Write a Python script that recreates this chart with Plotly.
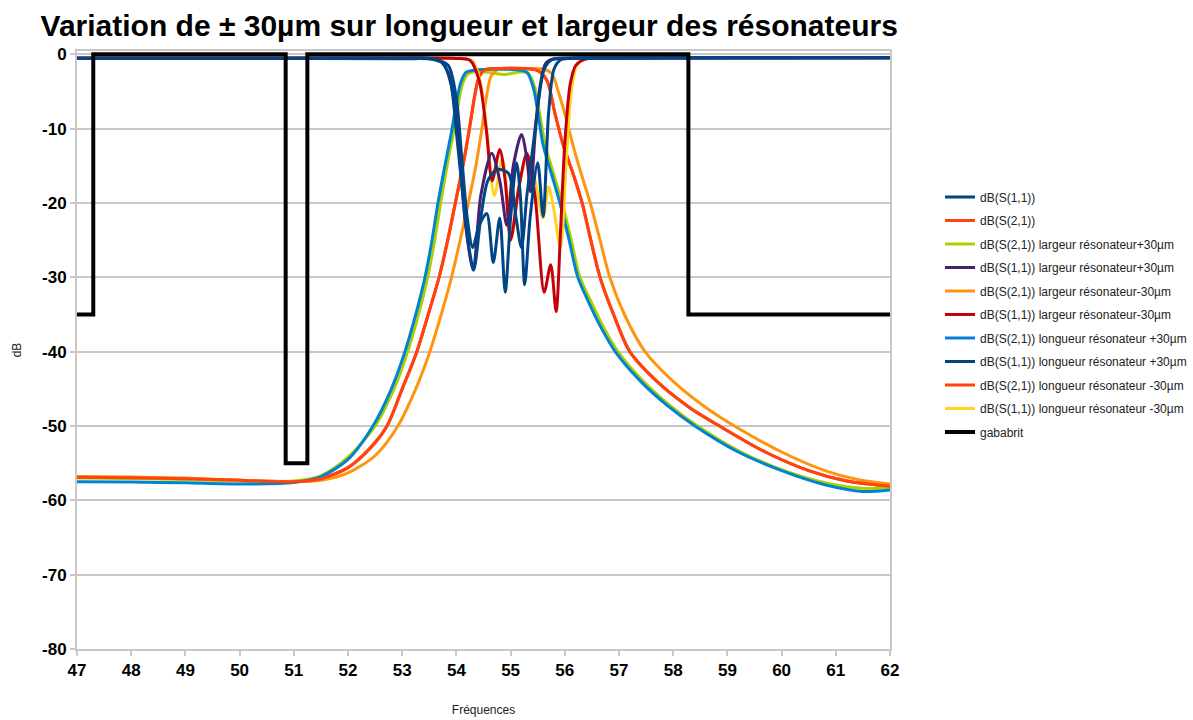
import plotly.graph_objects as go

# ---- S21 (transmission) curves, frequency in GHz / level in dB ----
f_s21_nom = [47, 48, 49, 50, 51, 51.5, 52, 52.4, 52.72, 53.0, 53.27, 53.48, 53.68, 53.84, 53.98, 54.12, 54.24,
             54.34, 54.42, 54.52, 54.8, 55.2, 55.5, 55.67, 55.82, 55.97, 56.15, 56.32, 56.48, 56.65, 56.9, 57.2,
             57.7, 58.3, 58.9, 59.7, 60.5, 61.2, 62]
db_s21_nom = [-56.9, -56.95, -57.1, -57.3, -57.45, -57.0, -55.6, -53.1, -50, -45, -40, -35, -30, -25, -20, -15,
              -10, -5.5, -3.0, -2.1, -1.9, -1.9, -2.2, -3.5, -8, -12.2, -16, -20, -25, -30, -35, -40, -44, -47.5,
              -50.2, -53.5, -56, -57.4, -58.1]

f_s21_lo = [47, 48, 49, 50, 51, 51.5, 52, 52.46, 52.8, 53.05, 53.25, 53.42, 53.55, 53.66, 53.8, 53.92, 54.0, 54.08,
            54.18, 54.35, 54.6, 54.9, 55.15, 55.3, 55.42, 55.5, 55.6, 55.75, 55.91, 56.08, 56.24, 56.45, 56.65,
            56.93, 57.4, 57.9, 58.4, 59.2, 60.0, 60.8, 61.5, 62]
db_s21_lo = [-57.5, -57.55, -57.65, -57.8, -57.6, -56.8, -54.5, -50, -45, -40, -35, -30, -25, -20, -14.5, -10,
             -6.5, -3.8, -2.4, -2.1, -2.0, -2.0, -2.1, -2.4, -4.5, -7.7, -12.2, -16, -20, -25, -30, -33.5, -36.5,
             -40, -44, -47.3, -50, -53.5, -56, -57.9, -58.8, -58.6]

f_s21_wp = [47, 48, 49, 50, 51, 51.5, 52, 52.5, 52.85, 53.1, 53.3, 53.47, 53.6, 53.71, 53.84, 53.96, 54.04, 54.12,
            54.22, 54.4, 54.65, 54.9, 55.15, 55.32, 55.45, 55.53, 55.64, 55.79, 55.95, 56.12, 56.28, 56.5, 56.7,
            56.98, 57.45, 57.95, 58.45, 59.25, 60.05, 60.85, 61.55, 62]
db_s21_wp = [-57.0, -57.05, -57.2, -57.4, -57.4, -56.7, -54.2, -50, -45, -40, -35, -30, -25, -20, -14.5, -10, -6.5,
             -3.8, -2.6, -2.3, -2.5, -2.7, -2.4, -2.5, -4.5, -7.7, -12.2, -16, -20, -25, -30, -33.5, -36.5, -40,
             -44, -47.3, -50, -53.5, -56, -57.7, -58.4, -58.3]

f_s21_wm = [47, 48, 49, 50, 51, 51.5, 52, 52.5, 52.92, 53.25, 53.51, 53.72, 53.91, 54.07, 54.22, 54.36, 54.47,
            54.56, 54.64, 54.75, 55.0, 55.4, 55.62, 55.76, 55.9, 56.02, 56.15, 56.3, 56.47, 56.65, 56.83, 57.1,
            57.48, 58.0, 58.6, 59.2, 60.0, 60.8, 61.4, 62]
db_s21_wm = [-56.8, -56.85, -57.0, -57.3, -57.5, -57.3, -56.3, -54, -50, -45, -40, -35, -30, -25, -20, -15, -10,
             -5.5, -2.9, -2.1, -1.9, -1.9, -2.0, -2.6, -5.5, -8.5, -12.2, -16, -20, -25, -30, -35, -40, -44, -47.5,
             -50.3, -53.5, -56, -57.2, -57.8]

f_s21_lm = [47, 48, 49, 50, 51, 51.5, 52, 52.4, 52.72, 53.0, 53.27, 53.48, 53.68, 53.84, 53.98, 54.12, 54.24,
            54.34, 54.42, 54.52, 54.8, 55.2, 55.5, 55.67, 55.82, 55.97, 56.15, 56.32, 56.48, 56.65, 56.9, 57.2,
            57.7, 58.3, 58.9, 59.7, 60.5, 61.2, 62]
db_s21_lm = [-56.9, -56.95, -57.1, -57.3, -57.5, -57.1, -55.6, -53, -50, -45, -40, -35, -30, -25, -20, -15, -10,
             -5.5, -3.0, -2.1, -1.9, -1.9, -2.2, -3.5, -8, -12.2, -16, -20, -25, -30, -35, -40, -44, -47.5, -50.2,
             -53.5, -56, -57.4, -58.1]

# ---- S11 (reflection) curves ----
f_s11_nom = [47, 49, 51, 53, 53.6, 53.85, 54.0, 54.1, 54.2, 54.3, 54.42, 54.56, 54.68, 54.8, 54.9, 55.0, 55.11,
             55.18, 55.26, 55.36, 55.5, 55.6, 55.7, 55.8, 55.92, 56.1, 57, 59, 62]
db_s11_nom = [-0.55, -0.55, -0.55, -0.55, -0.65, -1.5, -6, -14, -22, -26, -23, -21.4, -28, -22, -32, -22, -14.6,
              -19, -31, -22, -14.6, -21.8, -8, -2, -0.75, -0.55, -0.5, -0.5, -0.45]

f_s11_lo = [47, 50, 53, 53.55, 53.75, 53.9, 54.0, 54.12, 54.22, 54.32, 54.45, 54.58, 54.75, 54.96, 55.1, 55.2,
            55.3, 55.42, 55.52, 55.62, 55.75, 56, 58, 62]
db_s11_lo = [-0.55, -0.55, -0.6, -0.65, -1.2, -4, -10.5, -19, -25.4, -29, -22, -17, -15.5, -16, -22, -26, -19, -12,
             -6, -2, -0.75, -0.55, -0.5, -0.45]

f_s11_wp = [47, 50, 53, 53.5, 53.7, 53.85, 53.95, 54.05, 54.17, 54.31, 54.45, 54.65, 54.8, 54.93, 55.05, 55.2,
            55.3, 55.37, 55.45, 55.55, 55.65, 55.8, 57, 62]
db_s11_wp = [-0.5, -0.5, -0.5, -0.55, -0.9, -2.5, -6, -13, -23, -29, -19, -13.3, -17, -23, -15, -10.8, -14, -18.5,
             -11, -4, -1.2, -0.6, -0.5, -0.45]

f_s11_wm = [47, 50, 53, 54, 54.25, 54.42, 54.55, 54.66, 54.8, 54.9, 55.0, 55.15, 55.3, 55.45, 55.62, 55.74, 55.84,
            55.92, 56.0, 56.1, 56.2, 56.35, 57, 62]
db_s11_wm = [-0.5, -0.5, -0.5, -0.55, -0.8, -3.5, -10, -17, -12.8, -17, -25, -18, -13.3, -19, -32, -28.3, -34.6,
             -24, -12, -4, -1.5, -0.7, -0.5, -0.45]

f_s11_lm = [47, 50, 53, 54, 54.3, 54.45, 54.57, 54.7, 54.85, 55.02, 55.15, 55.3, 55.45, 55.6, 55.7, 55.8, 55.92,
            56.03, 56.12, 56.22, 56.35, 57, 62]
db_s11_lm = [-0.5, -0.5, -0.5, -0.55, -0.9, -4, -11, -19, -14, -24.5, -18, -14, -17, -22, -17.8, -21, -26, -14,
             -5, -1.5, -0.7, -0.5, -0.45]

# ---- specification mask ----
f_gabarit = [47, 47.3, 47.3, 50.85, 50.85, 51.25, 51.25, 58.28, 58.28, 62]
db_gabarit = [-35, -35, 0, 0, -55, -55, 0, 0, -35, -35]

# (legend label, x, y, colour, legend position)
series = [
    ("dB(S(2,1))", f_s21_nom, db_s21_nom, "#ff420e", 2),
    ("dB(S(2,1)) largeur résonateur+30µm", f_s21_wp, db_s21_wp, "#aecf00", 3),
    ("dB(S(2,1)) largeur résonateur-30µm", f_s21_wm, db_s21_wm, "#ff950e", 5),
    ("dB(S(2,1)) longueur résonateur +30µm", f_s21_lo, db_s21_lo, "#0084d1", 7),
    ("dB(S(2,1)) longueur résonateur -30µm", f_s21_lm, db_s21_lm, "#ff420e", 9),
    ("dB(S(1,1)) longueur résonateur -30µm", f_s11_lm, db_s11_lm, "#ffd320", 10),
    ("dB(S(1,1)) largeur résonateur-30µm", f_s11_wm, db_s11_wm, "#c5000b", 6),
    ("dB(S(1,1)) largeur résonateur+30µm", f_s11_wp, db_s11_wp, "#4b1f6f", 4),
    ("dB(S(1,1))", f_s11_nom, db_s11_nom, "#004586", 1),
    ("dB(S(1,1)) longueur résonateur +30µm", f_s11_lo, db_s11_lo, "#004586", 8),
]

fig = go.Figure()
for name, fx, dy, col, rank in series:
    fig.add_trace(go.Scatter(
        x=fx, y=dy, name=name, mode="lines",
        line=dict(color=col, width=3, shape="spline", smoothing=0.8),
        legendgroup=f"g{rank}", legendrank=rank,
    ))

fig.add_trace(go.Scatter(
    x=f_gabarit, y=db_gabarit, name="gababrit", mode="lines",
    line=dict(color="#000000", width=4), legendgroup="g11", legendrank=11,
))

font_main = "Liberation Sans, Arial, sans-serif"
y_ticks = [0, -10, -20, -30, -40, -50, -60, -70, -80]

fig.update_layout(
    width=1193, height=720,
    margin=dict(l=77, r=303, t=51, b=71, autoexpand=False),
    paper_bgcolor="white", plot_bgcolor="white",
    title=dict(
        text="<b>Variation de ± 30µm sur longueur et largeur des résonateurs</b>",
        font=dict(family=font_main, size=30, color="black"),
        x=0.034, xanchor="left", y=0.965, yanchor="middle",
    ),
    legend=dict(
        x=1.0615, xanchor="left", y=0.78, yanchor="top",
        font=dict(family=font_main, size=12, color="#222222"),
        tracegroupgap=4.5, itemwidth=30, bgcolor="rgba(0,0,0,0)",
    ),
    showlegend=True,
)

fig.update_xaxes(
    range=[47, 62], dtick=1, tick0=47,
    showgrid=False, showline=True, linecolor="#c8c8c8", linewidth=2, mirror=True,
    ticks="outside", ticklen=5, tickcolor="#c8c8c8", tickwidth=1.5,
    tickfont=dict(family=font_main, size=17, color="black", weight="bold"),
    title=dict(text="Fréquences", font=dict(family=font_main, size=12, color="#222222"), standoff=26),
    zeroline=False,
)
fig.update_yaxes(
    range=[-80, 0.45], tickvals=y_ticks, ticktext=[str(v) for v in y_ticks],
    showgrid=True, gridcolor="#c8c8c8", gridwidth=1.5,
    showline=True, linecolor="#c8c8c8", linewidth=2, mirror=True,
    ticks="outside", ticklen=5, tickcolor="#c8c8c8", tickwidth=1.5,
    tickfont=dict(family=font_main, size=17, color="black", weight="bold"),
    title=dict(text="dB", font=dict(family=font_main, size=12, color="#222222"), standoff=18),
    zeroline=False,
)

fig.write_html("out.html")
